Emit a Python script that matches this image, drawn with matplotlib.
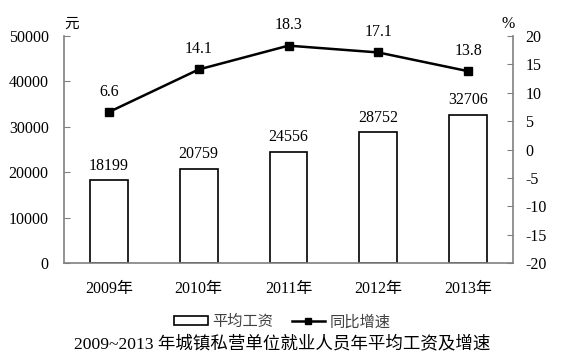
import matplotlib
matplotlib.use("Agg")
import matplotlib.pyplot as plt
from matplotlib.lines import Line2D
from matplotlib.patches import Patch

years = ["2009年", "2010年", "2011年", "2012年", "2013年"]
wages = [18199, 20759, 24556, 28752, 32706]
growth = [6.6, 14.1, 18.3, 17.1, 13.8]
left_ticks = [0, 10000, 20000, 30000, 40000, 50000]
right_ticks = [-20, -15, -10, -5, 0, 5, 10, 15, 20]
title = "2009~2013 年城镇私营单位就业人员年平均工资及增速"

plt.rcParams['font.family'] = ['Liberation Serif', 'Noto Sans CJK SC']
plt.rcParams['font.size'] = 11
plt.rcParams['axes.unicode_minus'] = False

fs = 11.5
fig = plt.figure(figsize=(5.65, 3.55), dpi=100)
ax = fig.add_axes([64/565, 1 - 263/355, (513-64)/565, (263-36)/355])
x = list(range(len(years)))
ax.bar(x, wages, width=0.42, color='white', edgecolor='black', linewidth=1.2, zorder=2)
for xi, v in zip(x, wages):
    ax.text(xi, v + 1500, f"{v}", ha='center', va='bottom', fontsize=fs)
ax.set_xlim(-0.5, 4.5)
ax.set_ylim(0, 50000)
ax.set_yticks(left_ticks)
ax.set_xticks(x)
ax.set_xticklabels(years, fontsize=fs)
ax.tick_params(axis='x', length=0, pad=13)
ax.tick_params(axis='y', direction='in', length=4, color='#808080', labelsize=fs, pad=11)
for s in ['top', 'right']:
    ax.spines[s].set_visible(False)
for s in ['left', 'bottom']:
    ax.spines[s].set_color('#808080')
    ax.spines[s].set_linewidth(1.2)

ax2 = ax.twinx()
ax2.plot(x, growth, color='black', linewidth=1.8, marker='s', markersize=6, zorder=3)
for xi, v in zip(x, growth):
    ax2.text(xi, v + 2.2, f"{v}", ha='center', va='bottom', fontsize=fs)
ax2.set_ylim(-20, 20)
ax2.set_yticks(right_ticks)
ax2.tick_params(axis='y', direction='in', length=4, color='#808080', labelsize=fs, pad=9)
for s in ['top', 'left', 'bottom']:
    ax2.spines[s].set_visible(False)
ax2.spines['right'].set_color('#808080')
ax2.spines['right'].set_linewidth(1.2)

fig.text(72/565, 1 - 24/355, "元", ha='center', va='center', fontsize=10.5)
fig.text(508/565, 1 - 24/355, "%", ha='center', va='center', fontsize=fs)

handles = [Patch(facecolor='white', edgecolor='black', linewidth=1.2),
           Line2D([0], [0], color='black', linewidth=1.8, marker='s', markersize=5)]
leg = fig.legend(handles, ["平均工资", "同比增速"], loc='center', bbox_to_anchor=(0.5, 1 - 322/355),
           ncol=2, frameon=False, fontsize=11, handlelength=2.2, handleheight=0.5,
           handletextpad=0.3, columnspacing=1.2)
for t in leg.get_texts():
    t.set_color('#404040')
fig.text(0.5, 1 - 344/355, title, ha='center', va='center', fontsize=12.6)

fig.savefig("out.png", dpi=100)
